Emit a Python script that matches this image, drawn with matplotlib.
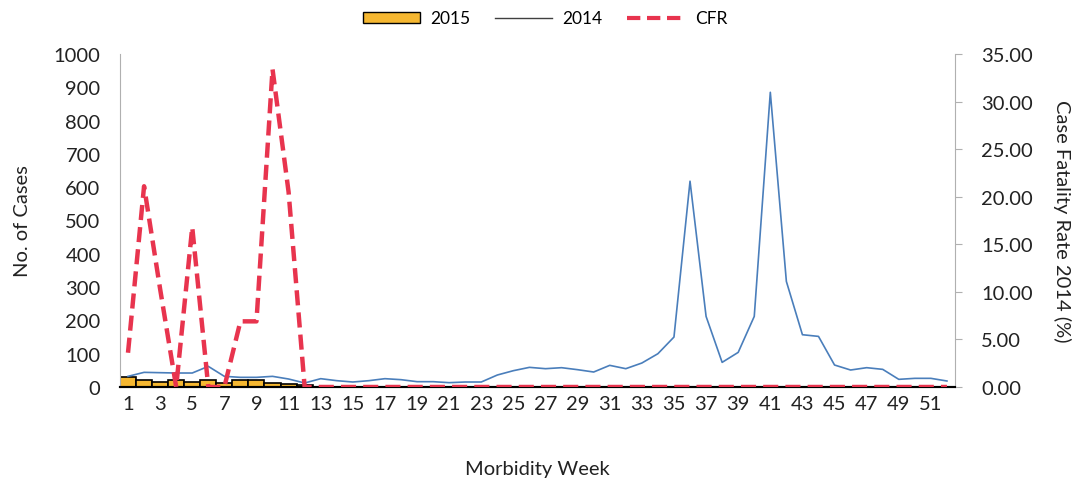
import matplotlib
matplotlib.use("Agg")
import matplotlib.pyplot as plt
from matplotlib.lines import Line2D
from matplotlib.patches import Patch
import numpy as np

plt.rcParams['font.family'] = ['Lato', 'DejaVu Sans']

weeks = list(range(1, 53))

cases_2015 = [29, 20, 16, 20, 16, 20, 13, 20, 20, 13, 8, 5]

cases_2014 = [32, 44, 43, 42, 42, 62, 32, 29, 29, 32, 24, 12,
              25, 19, 15, 19, 25, 22, 16, 16, 13, 15, 15, 36,
              49, 59, 55, 58, 52, 45, 65, 55, 72, 100, 150, 618,
              212, 74, 104, 212, 885, 317, 157, 152, 66, 51, 58, 53,
              23, 26, 26, 18]

cfr_2014 = [3.6, 21.1, 10.3, 0.0, 16.8, 0.0, 0.0, 6.9, 6.9, 33.4, 20.5, 0.0,
            0.0, 0.0, 0.0, 0.0, 0.0, 0.0, 0.0, 0.0, 0.0, 0.0, 0.0, 0.0,
            0.0, 0.0, 0.0, 0.0, 0.0, 0.0, 0.0, 0.0, 0.0, 0.0, 0.0, 0.0,
            0.0, 0.0, 0.0, 0.0, 0.0, 0.0, 0.0, 0.0, 0.0, 0.0, 0.0, 0.0,
            0.0, 0.0, 0.0, 0.0]

left_ticks = [0, 100, 200, 300, 400, 500, 600, 700, 800, 900, 1000]
right_ticks = [0, 5, 10, 15, 20, 25, 30, 35]
x_ticks = list(range(1, 52, 2))

fig = plt.figure(figsize=(10.77, 4.85), dpi=100)
ax = fig.add_axes([0.1114, 0.2, 0.7753, 0.6866])
ax2 = ax.twinx()

bar_color = '#f5b731'
line_color = '#4a7ebb'
cfr_color = '#e8344e'

ax.bar(weeks[:len(cases_2015)], cases_2015, width=1.0, color=bar_color,
       edgecolor='black', linewidth=1.2, zorder=2)
ax.plot(weeks, cases_2014, color=line_color, linewidth=1.2, zorder=3)
ax2.plot(weeks, cfr_2014, color=cfr_color, linewidth=3.2,
         dashes=(3.4, 1.6), zorder=4)

ax.set_xlim(0.5, 52.5)
ax.set_ylim(0, 1000)
ax2.set_ylim(0, 35)
ax.set_yticks(left_ticks)
ax.set_yticklabels([str(t) for t in left_ticks])
ax2.set_yticks(right_ticks)
ax2.set_yticklabels(['%.2f' % t for t in right_ticks])
ax.set_xticks(x_ticks)
ax.set_xticklabels([str(t) for t in x_ticks])

for a in (ax, ax2):
    a.spines['top'].set_visible(False)
    a.spines['left'].set_color('#b0b0b0')
    a.spines['right'].set_color('#b0b0b0')
    a.spines['bottom'].set_color('black')
    a.spines['bottom'].set_linewidth(1.5)
ax.spines['right'].set_visible(False)
ax2.spines['left'].set_visible(False)

ax.tick_params(axis='y', length=0, pad=14, labelsize=14.5, colors='#222222')
ax.tick_params(axis='x', length=0, pad=6, labelsize=14.5, colors='#222222')
ax2.tick_params(axis='y', length=5, width=0.8, color='#b0b0b0', pad=14,
                labelsize=14.5, labelcolor='#222222')

ax.set_ylabel('No. of Cases', fontsize=14.5, labelpad=16, color='#222222')
ax.set_xlabel('Morbidity Week', fontsize=14.5, labelpad=34, color='#222222')
ax2.set_ylabel('Case Fatality Rate 2014 (%)', fontsize=14.5, rotation=270,
               labelpad=27, color='#222222')

handles = [
    Patch(facecolor=bar_color, edgecolor='black', linewidth=1.0, label='2015'),
    Line2D([0], [0], color='#404040', linewidth=1.0, label='2014'),
    Line2D([0], [0], color=cfr_color, linewidth=3.0, dashes=(3.2, 1.6), label='CFR'),
]
fig.legend(handles=handles, loc='center', bbox_to_anchor=(0.506, 0.96), ncol=3,
           frameon=False, fontsize=12.5, handlelength=3.3, handleheight=0.6,
           columnspacing=1.4, handletextpad=0.6)

fig.savefig('out.png', dpi=100, facecolor='white')
